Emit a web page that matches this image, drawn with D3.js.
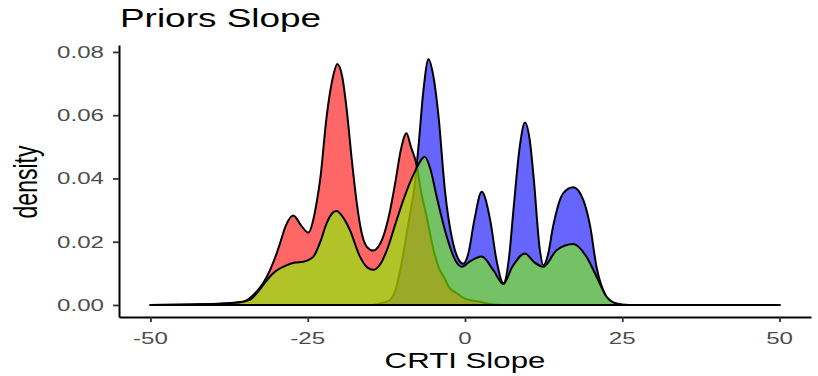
<!DOCTYPE html>
<html lang="en">
<head>
<meta charset="UTF-8">
<title>Priors Slope</title>
<style>
  body { margin: 0; background: #fff; }
  svg { display: block; font-family: "Liberation Sans", Arial, sans-serif; }
  .curve { stroke: #000; stroke-width: 2; stroke-linejoin: round; }
</style>
</head>
<body>
<svg id="chart" width="818" height="376"></svg>

<script src="https://cdn.jsdelivr.net/npm/d3@7"></script>
<script>

// density curves (x = CRTI slope, y = density)
const blueX = [-50, -15, -13.5, -12, -11, -10.3, -9, -8, -7.4, -6.6, -5.8, -5, -4.2, -3.2, -1.9, -0.8, -0.3, 0.5, 1.5, 2.65, 4, 5, 6.1, 7, 7.7, 8.7, 9.54, 10.3, 10.9, 11.9, 12.45, 13.2, 14, 15.6, 17.2, 18.8, 19.9, 20.9, 22, 22.5, 24, 26, 50]
const blueY = [0, 0, 0.0005, 0.0015, 0.005, 0.011, 0.0258, 0.038, 0.050, 0.068, 0.0777, 0.072, 0.0595, 0.0364, 0.0195, 0.0137, 0.0130, 0.016, 0.027, 0.0358, 0.0269, 0.0142, 0.0069, 0.015, 0.030, 0.050, 0.0577, 0.052, 0.0406, 0.0174, 0.0126, 0.016, 0.0248, 0.0353, 0.0372, 0.0332, 0.0248, 0.0121, 0.0045, 0.0026, 0.0005, 0, 0]

const redX = [-50, -42, -38, -36, -35, -34, -33, -32, -31, -30, -29.4, -28.5, -27.3, -26, -24.9, -24, -23.6, -23, -22, -21, -20.3, -19.5, -18.8, -18, -17.2, -16.4, -15.6, -14.6, -13, -12, -11.1, -10.2, -9.3, -8.6, -7.7, -7, -6.1, -5, -4, -3.4, -2.5, -1.3, 0, 2.4, 4, 6, 50]
const redY = [0, 0.0002, 0.0005, 0.0009, 0.0012, 0.0025, 0.0045, 0.0072, 0.011, 0.016, 0.0195, 0.025, 0.0283, 0.025, 0.0229, 0.028, 0.0322, 0.040, 0.0595, 0.072, 0.0762, 0.072, 0.0617, 0.046, 0.0322, 0.0225, 0.0184, 0.0172, 0.0216, 0.029, 0.0385, 0.049, 0.0543, 0.050, 0.0443, 0.036, 0.028, 0.0174, 0.011, 0.009, 0.0055, 0.0037, 0.002, 0.001, 0.0003, 0, 0]

const greenX = [-50, -42, -36, -34.2, -33, -32, -31, -30, -28.3, -27, -25.7, -24.1, -23, -22, -21, -20.4, -19.5, -18.3, -16.7, -15.5, -14.6, -13.5, -12.4, -11, -9.8, -8, -6.4, -5.5, -4.5, -2.9, -1.5, -0.5, 0.8, 2.65, 4.5, 6.1, 7.5, 9.54, 11, 12.45, 14.6, 17.2, 19.3, 20.9, 22.5, 24, 26, 50]
const greenY = [0, 0.0002, 0.0008, 0.0016, 0.004, 0.0065, 0.009, 0.0108, 0.0126, 0.0134, 0.0137, 0.0153, 0.020, 0.0258, 0.0292, 0.0297, 0.028, 0.0237, 0.0153, 0.0118, 0.0111, 0.0128, 0.0174, 0.026, 0.0332, 0.042, 0.0469, 0.043, 0.0342, 0.0216, 0.0140, 0.0121, 0.0138, 0.0153, 0.011, 0.0066, 0.012, 0.0163, 0.0135, 0.0121, 0.0174, 0.0193, 0.0153, 0.009, 0.0026, 0.0005, 0, 0]

const xTicks = [-50, -25, 0, 25, 50]
const yTicks = [0, 0.02, 0.04, 0.06, 0.08]

const svg = d3.select("#chart")

// panel box
const panelLeft = 119, panelRight = 811, panelTop = 45, panelBottom = 317
const stretch = 1.42   // the picture's text is drawn wide

let xScale = d3.scaleLinear()
    .domain([-55, 55])
    .range([panelLeft, panelRight])

let yScale = d3.scaleLinear()
    .domain([-0.0038, 0.0822])
    .range([panelBottom, panelTop])

let area = d3.area()
    .x(d => xScale(d[0]))
    .y0(yScale(0))
    .y1(d => yScale(d[1]))
    .curve(d3.curveMonotoneX)

// draw order matters for the blended colours: blue, red, then green
let series = [
    {x: blueX, y: blueY, fill: "rgba(0,0,255,0.6)"},
    {x: redX, y: redY, fill: "rgba(255,0,0,0.6)"},
    {x: greenX, y: greenY, fill: "rgba(127,255,0,0.6)"}
]

series.forEach(s => {
    svg.append("path")
        .datum(d3.zip(s.x, s.y))
        .attr("class", "curve")
        .attr("fill", s.fill)
        .attr("d", area)
})

// axes
let xAxis = d3.axisBottom(xScale)
    .tickValues(xTicks)
    .tickSize(5)
    .tickSizeOuter(0)
    .tickFormat("")

let yAxis = d3.axisLeft(yScale)
    .tickValues(yTicks)
    .tickSize(6)
    .tickSizeOuter(0)
    .tickFormat("")

svg.append("g")
    .attr("transform", "translate(0," + panelBottom + ")")
    .call(xAxis)

svg.append("g")
    .attr("transform", "translate(" + panelLeft + ",0)")
    .call(yAxis)

svg.selectAll(".domain").attr("stroke", "#000").attr("stroke-width", 2)
svg.selectAll(".tick line").attr("stroke", "#333").attr("stroke-width", 1.8)

function wideText(x, y, str, anchor, size, color, rotate) {
    svg.append("text")
        .attr("transform", "translate(" + x + "," + y + ") scale(" + stretch + ",1)" + (rotate ? " rotate(" + rotate + ")" : ""))
        .attr("text-anchor", anchor)
        .attr("font-size", size)
        .attr("fill", color)
        .text(str)
}

xTicks.forEach(t => wideText(xScale(t), 344, t, "middle", 17, "#4d4d4d"))
yTicks.forEach(t => wideText(panelLeft - 15, yScale(t) + 6, d3.format(".2f")(t), "end", 17, "#4d4d4d"))

wideText(465, 368, "CRTI Slope", "middle", 22, "#000")
wideText(37, 182, "density", "middle", 23, "#000", -90)
wideText(120, 27, "Priors Slope", "start", 26, "#000")

</script>
</body>
</html>
